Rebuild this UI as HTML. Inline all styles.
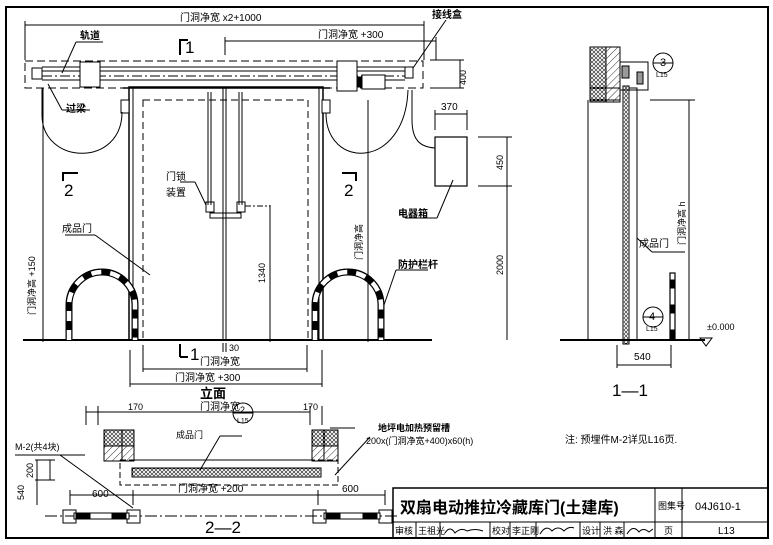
<!DOCTYPE html>
<html><head><meta charset="utf-8"><style>
html,body{margin:0;padding:0;background:#fff}
svg{display:block}
text{font-family:"Liberation Sans","Noto Sans CJK SC",sans-serif;fill:#000}
.b{font-weight:bold}
</style></head><body>
<svg width="773" height="545" viewBox="0 0 773 545" xmlns="http://www.w3.org/2000/svg">
<defs>
<pattern id="dots" width="4" height="4" patternUnits="userSpaceOnUse"><rect width="4" height="4" fill="#fff"/><circle cx="2" cy="2" r="1.4" fill="none" stroke="#000" stroke-width="0.6"/></pattern>
<pattern id="hatch" width="5" height="5" patternUnits="userSpaceOnUse" patternTransform="rotate(45)"><rect width="5" height="5" fill="#fff"/><line x1="0" y1="0" x2="0" y2="5" stroke="#000" stroke-width="0.8"/></pattern>
</defs>
<g fill="none" stroke="#000" stroke-width="1">
<rect x="6" y="7" width="762" height="531" stroke-width="2"/>
<line x1="25" y1="25" x2="424" y2="25"/><line x1="25" y1="21" x2="25" y2="60"/><line x1="424" y1="21" x2="424" y2="60"/>
<line x1="225" y1="41" x2="436" y2="41"/><line x1="225" y1="37" x2="225" y2="55"/><line x1="436" y1="37" x2="436" y2="60"/>
<line x1="460" y1="60" x2="460" y2="88"/><line x1="430" y1="60" x2="464" y2="60"/><line x1="430" y1="88" x2="464" y2="88"/>
<path d="M180 55 V40 H188" stroke-width="2"/>
<path d="M180 357 V344" stroke-width="2"/><path d="M180 357 H188" stroke-width="2"/>
<path d="M63 181 V173 H78" stroke-width="2"/>
<path d="M342 173 H356 V181" stroke-width="2"/>
<rect x="25" y="61" width="398" height="27" stroke-dasharray="8,4"/>
<line x1="42" y1="67" x2="405" y2="67"/><line x1="42" y1="71" x2="405" y2="71"/>
<line x1="42" y1="76" x2="405" y2="76" stroke-dasharray="10,3,2,3"/>
<line x1="42" y1="80" x2="405" y2="80"/>
<rect x="32" y="68" width="10" height="11" fill="#fff"/>
<rect x="80" y="62" width="20" height="25" fill="#fff"/>
<rect x="337" y="61" width="20" height="30" fill="#fff"/>
<rect x="362" y="75" width="23" height="14" fill="#fff"/><rect x="358" y="77" width="4" height="10" fill="#000"/>
<rect x="405" y="67" width="8" height="11" fill="#fff"/>
<line x1="413" y1="68" x2="446" y2="20"/>
<line x1="62" y1="73" x2="76" y2="42"/><line x1="76" y1="42" x2="103" y2="42"/>
<line x1="48" y1="84" x2="62" y2="110"/><line x1="62" y1="110" x2="90" y2="110"/>
<rect x="129" y="87" width="194" height="253" stroke-width="1.5"/>
<line x1="123" y1="88" x2="330" y2="88" stroke-width="1.5"/>
<line x1="223" y1="87" x2="223" y2="340"/><line x1="226" y1="87" x2="226" y2="340"/>
<rect x="143" y="100" width="165" height="240" stroke-dasharray="7,4"/>
<line x1="133" y1="88" x2="133" y2="340"/><line x1="319" y1="88" x2="319" y2="340"/>
<rect x="121" y="100" width="8" height="13" fill="#fff"/><rect x="322" y="100" width="8" height="13" fill="#fff"/>
<line x1="208" y1="92" x2="208" y2="205"/><line x1="211" y1="92" x2="211" y2="205"/>
<line x1="239" y1="92" x2="239" y2="205"/><line x1="242" y1="92" x2="242" y2="205"/>
<rect x="206" y="202" width="8" height="10"/><rect x="237" y="202" width="8" height="10"/>
<rect x="210" y="213" width="31" height="5"/>
<line x1="245" y1="206" x2="270" y2="206" stroke-dasharray="6,2,2,2"/>
<line x1="180" y1="182" x2="195" y2="182"/><line x1="195" y1="182" x2="206" y2="205"/>
<path d="M42 88 V115 C42 165 122 168 122 112"/>
<path d="M326 113 C326 170 405 170 408 90"/>
<path d="M412 90 V120 C412 140 420 147 435 148"/>
<rect x="435" y="137" width="32" height="49" stroke-width="1.2"/>
<line x1="453" y1="180" x2="437" y2="218"/><line x1="405" y1="218" x2="437" y2="218"/>
<line x1="435" y1="114" x2="467" y2="114"/><line x1="435" y1="110" x2="435" y2="130"/><line x1="467" y1="110" x2="467" y2="130"/>
<line x1="507" y1="137" x2="507" y2="340"/><line x1="478" y1="137" x2="512" y2="137"/><line x1="478" y1="186" x2="512" y2="186"/>
<line x1="368" y1="100" x2="368" y2="342"/>
<line x1="43" y1="88" x2="43" y2="342"/>
<line x1="270" y1="205" x2="270" y2="342"/>
<line x1="23" y1="340" x2="432" y2="340" stroke-width="2"/>
<path d="M69 340 V305 A33 33 0 0 1 135 305 V340" stroke-width="7" stroke="#000"/>
<path d="M69 340 V305 A33 33 0 0 1 135 305 V340" stroke-width="4.5" stroke="#fff" stroke-dasharray="10,9"/>
<path d="M315 340 V305 A33 33 0 0 1 381 305 V340" stroke-width="7" stroke="#000"/>
<path d="M315 340 V305 A33 33 0 0 1 381 305 V340" stroke-width="4.5" stroke="#fff" stroke-dasharray="10,9"/>
<line x1="384" y1="305" x2="396" y2="270"/><line x1="396" y1="270" x2="428" y2="270"/>
<line x1="150" y1="275" x2="95" y2="235"/><line x1="65" y1="235" x2="95" y2="235"/>
<line x1="143" y1="369" x2="307" y2="369"/><line x1="143" y1="345" x2="143" y2="372"/><line x1="307" y1="345" x2="307" y2="372"/>
<line x1="130" y1="384" x2="322" y2="384"/><line x1="130" y1="350" x2="130" y2="387"/><line x1="322" y1="350" x2="322" y2="387"/>
<line x1="223" y1="343" x2="223" y2="352"/><line x1="226" y1="343" x2="226" y2="352"/>
<rect x="590" y="47" width="16" height="55" fill="url(#dots)"/>
<rect x="606" y="47" width="14" height="55" fill="url(#hatch)"/>
<rect x="590" y="88" width="30" height="12"/>
<rect x="623" y="86" width="6" height="258" fill="url(#dots)"/><rect x="629" y="88" width="8" height="252"/>
<rect x="620" y="62" width="28" height="28"/>
<rect x="622" y="66" width="7" height="12" fill="#999"/><rect x="637" y="72" width="6" height="12" fill="#999"/>
<line x1="588" y1="100" x2="588" y2="340"/>
<line x1="560" y1="340" x2="705" y2="340" stroke-width="2"/>
<line x1="650" y1="100" x2="695" y2="100"/><line x1="689" y1="100" x2="689" y2="340"/>
<rect x="670" y="273" width="5" height="67" stroke-width="1.2"/>
<rect x="670" y="280" width="5" height="8" fill="#000"/><rect x="670" y="305" width="5" height="8" fill="#000"/><rect x="670" y="330" width="5" height="10" fill="#000"/>
<line x1="637" y1="238" x2="652" y2="252"/><line x1="652" y1="252" x2="685" y2="252"/>
<path d="M700 338 l6 8 l6 -8 z"/>
<line x1="617" y1="365" x2="671" y2="365"/><line x1="617" y1="345" x2="617" y2="368"/><line x1="671" y1="345" x2="671" y2="368"/>
<circle cx="663" cy="63" r="10"/><line x1="653" y1="63" x2="673" y2="63"/>
<circle cx="653" cy="317" r="10"/><line x1="643" y1="317" x2="663" y2="317"/>
<rect x="104" y="430" width="30" height="16" fill="url(#dots)"/><rect x="104" y="446" width="30" height="15" fill="url(#hatch)"/>
<rect x="122" y="430" width="12" height="31"/>
<rect x="312" y="430" width="26" height="16" fill="url(#dots)"/><rect x="312" y="446" width="26" height="15" fill="url(#hatch)"/>
<rect x="312" y="430" width="12" height="31"/>
<rect x="132" y="468" width="189" height="9" fill="url(#dots)"/>
<line x1="134" y1="460" x2="312" y2="460" stroke-dasharray="6,3"/>
<rect x="120" y="460" width="218" height="25" stroke-dasharray="6,3"/>
<line x1="86" y1="412" x2="147" y2="412"/><line x1="86" y1="406" x2="86" y2="425"/><line x1="98" y1="406" x2="98" y2="425"/>
<line x1="98" y1="412" x2="310" y2="412"/><line x1="310" y1="406" x2="310" y2="425"/><line x1="322" y1="406" x2="322" y2="425"/>
<line x1="15" y1="455" x2="85" y2="455"/><line x1="330" y1="428" x2="355" y2="428"/>
<line x1="60" y1="455" x2="133" y2="508"/>
<line x1="200" y1="470" x2="220" y2="436"/><line x1="220" y1="436" x2="242" y2="436"/>
<line x1="335" y1="475" x2="370" y2="437"/>
<line x1="37" y1="460" x2="37" y2="505"/><line x1="50" y1="460" x2="50" y2="480"/>
<line x1="35" y1="460" x2="55" y2="460"/><line x1="35" y1="480" x2="55" y2="480"/>
<line x1="70" y1="495" x2="385" y2="495"/>
<line x1="70" y1="490" x2="70" y2="505"/><line x1="133" y1="490" x2="133" y2="505"/>
<line x1="318" y1="490" x2="318" y2="505"/><line x1="385" y1="490" x2="385" y2="505"/>
<line x1="45" y1="516" x2="400" y2="516" stroke-dasharray="12,3,2,3"/>
<rect x="63" y="510" width="13" height="13"/><rect x="127" y="510" width="13" height="13"/>
<rect x="313" y="510" width="13" height="13"/><rect x="379" y="510" width="13" height="13"/>
<rect x="74" y="513" width="55" height="6" fill="#fff"/><rect x="76" y="513" width="14" height="6" fill="#000"/><rect x="112" y="513" width="14" height="6" fill="#000"/>
<rect x="324" y="513" width="56" height="6" fill="#fff"/><rect x="326" y="513" width="14" height="6" fill="#000"/><rect x="363" y="513" width="14" height="6" fill="#000"/>
<circle cx="243" cy="413" r="10"/><line x1="233" y1="413" x2="253" y2="413"/>
<rect x="393" y="488" width="375" height="50" stroke-width="1.5"/>
<line x1="393" y1="522" x2="768" y2="522"/>
<line x1="655" y1="488" x2="655" y2="538"/><line x1="682" y1="488" x2="682" y2="538"/>
<line x1="416" y1="522" x2="416" y2="538"/><line x1="440" y1="522" x2="440" y2="538"/><line x1="490" y1="522" x2="490" y2="538"/><line x1="510" y1="522" x2="510" y2="538"/><line x1="536" y1="522" x2="536" y2="538"/><line x1="580" y1="522" x2="580" y2="538"/><line x1="600" y1="522" x2="600" y2="538"/><line x1="624" y1="522" x2="624" y2="538"/>
<path d="M445 533 q5 -8 10 0 q6 -6 12 -2 q8 -3 16 0" /><path d="M540 534 q6 -10 12 -3 q6 -6 12 0 q5 -5 10 -3"/><path d="M627 534 q6 -10 12 -2 q4 -5 10 0 l4 -3"/>
</g>
<g font-size="10">
<text x="180" y="21">门洞净宽 x2+1000</text>
<text x="318" y="38">门洞净宽 +300</text>
<text x="432" y="18" class="b">接线盒</text>
<text x="80" y="39" class="b">轨道</text>
<text x="66" y="112" class="b">过梁</text>
<text x="185" y="53" font-size="17">1</text>
<text x="64" y="196" font-size="17">2</text>
<text x="344" y="196" font-size="17">2</text>
<text x="190" y="360" font-size="17">1</text>
<text x="166" y="180">门锁</text>
<text x="166" y="196">装置</text>
<text x="62" y="232">成品门</text>
<text x="398" y="217" class="b">电器箱</text>
<text x="398" y="268" class="b">防护栏杆</text>
<text x="441" y="110">370</text>
<text x="229" y="351" font-size="9">30</text>
<text x="200" y="365">门洞净宽</text>
<text x="175" y="381">门洞净宽 +300</text>
<text x="200" y="398" font-size="13" class="b">立面</text>
<text x="660" y="66" font-size="11">3</text><text x="656" y="77" font-size="7">L15</text>
<text x="649" y="320" font-size="11">4</text><text x="646" y="331" font-size="7">L15</text>
<text x="639" y="247">成品门</text>
<text x="707" y="330" font-size="9">±0.000</text>
<text x="634" y="360">540</text>
<text x="612" y="396" font-size="17">1—1</text>
<text x="565" y="443">注: 预埋件M-2详见L16页.</text>
<text x="128" y="410" font-size="9">170</text><text x="200" y="410">门洞净宽</text><text x="303" y="410" font-size="9">170</text>
<text x="240" y="413" font-size="9">2</text><text x="237" y="423" font-size="7">L15</text>
<text x="378" y="431" class="b" font-size="9">地坪电加热预留槽</text>
<text x="366" y="444" font-size="9">200x(门洞净宽+400)x60(h)</text>
<text x="176" y="438" font-size="9">成品门</text>
<text x="15" y="450" font-size="9">M-2(共4块)</text>
<text x="92" y="497">600</text><text x="178" y="492">门洞净宽 +200</text><text x="342" y="492">600</text>
<text x="205" y="533" font-size="17">2—2</text>
<text x="400" y="513" font-size="16" class="b">双扇电动推拉冷藏库门(土建库)</text>
<text x="658" y="509" font-size="9">图集号</text>
<text x="695" y="510" font-size="11">04J610-1</text>
<text x="395" y="534" font-size="9">审核</text><text x="418" y="534" font-size="9">王祖光</text>
<text x="492" y="534" font-size="9">校对</text><text x="512" y="534" font-size="9">李正刚</text>
<text x="582" y="534" font-size="9">设计</text><text x="603" y="534" font-size="9">洪 森</text>
<text x="664" y="534" font-size="9">页</text><text x="718" y="534" font-size="10">L13</text>
</g>
<g font-size="9">
<text transform="translate(35,315) rotate(-90)">门洞净高 +150</text>
<text transform="translate(362,260) rotate(-90)">门洞净高</text>
<text transform="translate(265,283) rotate(-90)">1340</text>
<text transform="translate(503,170) rotate(-90)">450</text>
<text transform="translate(503,275) rotate(-90)">2000</text>
<text transform="translate(466,85) rotate(-90)">400</text>
<text transform="translate(685,245) rotate(-90)">门洞净高 h</text>
<text transform="translate(33,478) rotate(-90)">200</text>
<text transform="translate(24,500) rotate(-90)">540</text>
</g>
</svg>
</body></html>
